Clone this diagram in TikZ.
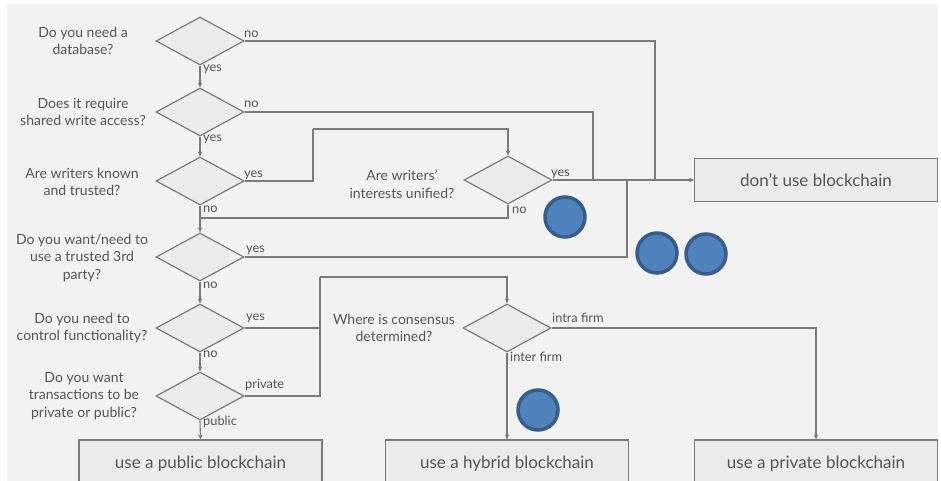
\documentclass[tikz,border=0pt]{standalone}
\usepackage{fontspec}
\setmainfont{Lato}
\usetikzlibrary{shapes.geometric,arrows.meta}
\definecolor{bg}{HTML}{F2F2F2}
\definecolor{ln}{HTML}{7A7A7A}
\definecolor{tx}{HTML}{555555}
\definecolor{dfill}{HTML}{EBEBEB}
\definecolor{cfill}{HTML}{4F81BD}
\definecolor{cdraw}{HTML}{385D8A}
\begin{document}
\begin{tikzpicture}[x=1pt,y=-1pt,
 dia/.style={diamond, draw=ln, fill=dfill, line width=1.2pt, minimum width=88pt, minimum height=48pt, inner sep=0pt},
 box/.style={rectangle, draw=ln, fill=dfill, line width=1.2pt, minimum width=243pt, minimum height=43pt, font=\fontsize{17}{20}\selectfont, text=tx},
 q/.style={align=center, font=\fontsize{14}{17.5}\selectfont, text=tx, inner sep=0pt},
 lab/.style={font=\fontsize{12.8}{14}\selectfont, text=tx, inner sep=0pt, anchor=base west},
 con/.style={draw=ln, line width=1.1pt},
 arr/.style={con, -{Stealth[length=5pt,width=4.5pt]}},
 dot/.style={circle, fill=cfill, draw=cdraw, line width=3.5pt, minimum size=40pt, inner sep=0pt}]
\clip (0,0) rectangle (941,481);
\fill[white] (0,0) rectangle (941,481);
\fill[bg] (7,4) rectangle (938,481);

% questions on the left
\node[q] (q1) at (83,41) {Do you need a\\database?};
\node[q] (q2) at (83,112) {Does it require\\shared write access?};
\node[q] (q3) at (82,182) {Are writers known\\and trusted?};
\node[q] (q4) at (82,258) {Do you want/need to\\use a trusted 3rd\\party?};
\node[q] (q5) at (82,328) {Do you need to\\control functionality?};
\node[q] (q6) at (84,396) {Do you want\\transactions to be\\private or public?};
\node[q] (qw) at (402,184) {Are writers'\\interests unified?};
\node[q] (qc) at (394,328) {Where is consensus\\determined?};

% diamonds
\node[dia] (d1) at (200,41) {};
\node[dia] (d2) at (200,112) {};
\node[dia] (d3) at (200,181) {};
\node[dia] (d4) at (200,257) {};
\node[dia] (d5) at (200,328) {};
\node[dia] (d6) at (200,396) {};
\node[dia] (dw) at (508,180) {};
\node[dia] (dc) at (507,328) {};

% result boxes
\node[box] (dont) at (816,180) {don’t use blockchain};
\node[box, minimum height=48pt] (pub) at (200.5,464) {use a public blockchain};
\node[box, minimum height=48pt] (hyb) at (507,464) {use a hybrid blockchain};
\node[box, minimum height=48pt] (pri) at (816,464) {use a private blockchain};

% junctions
\coordinate (j1) at (655,180);
\coordinate (j2) at (593,180);
\coordinate (j4) at (627,180);
\coordinate (k1) at (313,129);
\coordinate (k2) at (200,218);
\coordinate (k3) at (320,277);

% main column
\draw[arr] (d1.south) -- (d2.north);
\draw[arr] (d2.south) -- (d3.north);
\draw[arr] (d3.south) -- (d4.north);
\draw[arr] (d4.south) -- (d5.north);
\draw[arr] (d5.south) -- (d6.north);
\draw[arr] (d6.south) -- (pub.north);

% to "don't use blockchain"
\draw[con] (d1.east) -| (j1);
\draw[con] (d2.east) -| (j2);
\draw[con] (d4.east) -| (j4);
\draw[arr] (dw.east) -- (dont.west);

% writers known -> interests unified
\draw[con] (d3.east) -| (k1);
\draw[arr] (k1) -| (dw.north);
\draw[con] (dw.south) |- (k2);

% control / private -> consensus
\draw[con] (d5.east) -| (k3);
\draw[con] (d6.east) -| (k3);
\draw[arr] (k3) -| (dc.north);
\draw[arr] (dc.east) -| (pri.north);
\draw[arr] (dc.south) -- (hyb.north);

% labels
\node[lab] (l1n) at (244,38) {no};
\node[lab] (l1y) at (203,72) {yes};
\node[lab] (l2n) at (244,108) {no};
\node[lab] (l2y) at (203,142) {yes};
\node[lab] (l3y) at (244,178) {yes};
\node[lab] (l3n) at (203,212) {no};
\node[lab] (lwy) at (551,176) {yes};
\node[lab] (lwn) at (512,213) {no};
\node[lab] (l4y) at (246,252) {yes};
\node[lab] (l4n) at (203,288) {no};
\node[lab] (l5y) at (246,320) {yes};
\node[lab] (l5n) at (203,357) {no};
\node[lab] (l6p) at (245,388) {private};
\node[lab] (l6q) at (203,425) {public};
\node[lab] (lci) at (552,322) {intra firm};
\node[lab] (lce) at (510,361) {inter firm};

% blue dots
\node[dot] (c1) at (565,217) {};
\node[dot] (c2) at (657,253) {};
\node[dot] (c3) at (706,254) {};
\node[dot] (c4) at (538,410) {};
\end{tikzpicture}
\end{document}
